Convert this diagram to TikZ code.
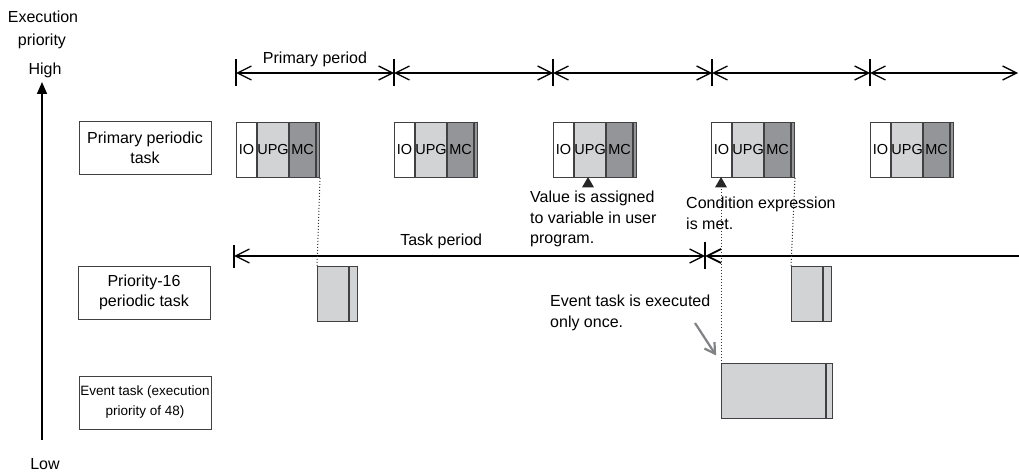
\documentclass[tikz,border=0pt]{standalone}
\usepackage{fontspec}
\setmainfont{Liberation Sans}
\usetikzlibrary{arrows.meta,positioning,shapes.geometric}
\definecolor{TaskLight}{HTML}{D1D3D4}
\definecolor{TaskDark}{HTML}{939598}
\definecolor{TaskLine}{HTML}{414042}
\definecolor{NoteGray}{HTML}{808285}

\begin{document}
\begin{tikzpicture}[x=1pt,y=-1pt,font=\fontsize{16}{20.5}\selectfont,
  lbl/.style={draw=TaskLine,line width=1pt,minimum width=132pt,minimum height=53pt,align=center,inner sep=1pt},
  cell/.style={draw=TaskLine,line width=0.9pt,minimum height=55pt,inner sep=0pt,font=\fontsize{14.5}{15}\selectfont},
  dim/.style={{Straight Barb[length=14pt,width=14pt]}-{Straight Barb[length=14pt,width=14pt]},line width=1.3pt},
  periodtick/.style={line width=1.2pt},
  note/.style={align=left,anchor=north west,inner sep=0pt},
  trig/.style={regular polygon,regular polygon sides=3,fill=black!85,inner sep=0pt,minimum size=14pt},
  guide/.style={dotted,line width=1pt,black!80}]
  \fill[white] (0,0) rectangle (1019,473);
  \useasboundingbox (0,0) rectangle (1019,473);

  % priority axis
  \node (exe) at (43,17) {Execution};
  \node (pri) at (42,41) {priority};
  \node (high) at (45,70) {High};
  \node (low) at (45,464) {Low};
  \coordinate (axtop) at (42,82);
  \coordinate (axbot) at (42,440);
  \draw[-{Triangle[length=12pt,width=10pt]},line width=1.6pt] (axbot) -- (axtop);

  % task names
  \node[lbl] (prim) at (145,148) {Primary periodic\\task};
  \node[lbl] (p16) at (144,292.5) {Priority-16\\periodic task};
  \node[lbl,font=\fontsize{13.5}{20}\selectfont] (evt) at (145,402.5) {Event task (execution\\priority of 48)};

  % primary periods
  \foreach \i/\x in {0/236,1/394,2/553,3/712,4/870}{
    \coordinate (p\i) at (\x,73);
    \draw[periodtick] ([yshift=14pt]p\i) -- ([yshift=-13pt]p\i);
  }
  \coordinate (p5) at (1018,73);
  \foreach \a/\b in {0/1,1/2,2/3,3/4,4/5}{\draw[dim] (p\a) -- (p\b);}
  \path (p0) -- (p1) node[midway,above=6pt,inner sep=0pt] {Primary period};

  % primary periodic task blocks
  \foreach \i/\x in {1/236,2/394,3/553,4/711,5/870}{
    \node[cell,minimum width=20pt,fill=white,anchor=north west] (io\i) at (\x,122) {IO};
    \node[cell,minimum width=30pt,fill=TaskLight,right=0pt of io\i] (upg\i) {UPG};
    \node[cell,minimum width=26pt,fill=TaskDark,right=0pt of upg\i] (mc\i) {MC};
    \node[cell,minimum width=3pt,fill=TaskDark,right=0pt of mc\i] (end\i) {};
  }

  % triggers
  \node[trig] (tri1) at (588,184) {};
  \node[trig] (tri2) at (721,184) {};
  \node[note] (valnote) at (530,191) {Value is assigned\\to variable in user\\program.};
  \node[note] (condnote) at (686,197) {Condition expression\\is met.};

  % task period
  \coordinate (tp0) at (234,256);
  \coordinate (tp1) at (705,256);
  \coordinate (tp2) at (1019,256);
  \draw[periodtick] ([yshift=11pt]tp0) -- ([yshift=-12pt]tp0);
  \draw[periodtick] ([yshift=14pt]tp1) -- ([yshift=-13pt]tp1);
  \draw[dim] (tp0) -- (tp1) node[pos=0.44,above=7pt,inner sep=0pt] {Task period};
  \draw[{Straight Barb[length=14pt,width=14pt]}-,line width=1.8pt] (tp1) -- (tp2);

  % priority-16 task runs
  \node[cell,fill=TaskLight,minimum width=31pt,anchor=north west] (pt1) at (317,266) {};
  \node[cell,fill=TaskLight,minimum width=8pt,right=0pt of pt1] (pt1e) {};
  \node[cell,fill=TaskLight,minimum width=31pt,anchor=north west] (pt2) at (791,266) {};
  \node[cell,fill=TaskLight,minimum width=8pt,right=0pt of pt2] (pt2e) {};

  % event task run
  \node[cell,fill=TaskLight,minimum width=104pt,anchor=north west] (ev) at (721,363) {};
  \node[cell,fill=TaskLight,minimum width=6pt,right=0pt of ev] (eve) {};
  \node[note] (evnote) at (550,295) {Event task is executed\\only once.};
  \coordinate (evfrom) at (695,323);
  \draw[-{Straight Barb[length=10pt,width=12pt]},NoteGray,line width=2.2pt,shorten >=9pt] (evfrom) -- (ev.north west);

  \draw[guide] (end1.south east) -- (pt1.north west);
  \draw[guide] (end4.south east) -- (pt2.north west);
  \draw[guide] (tri2.north) -- (ev.north west);
\end{tikzpicture}
\end{document}
